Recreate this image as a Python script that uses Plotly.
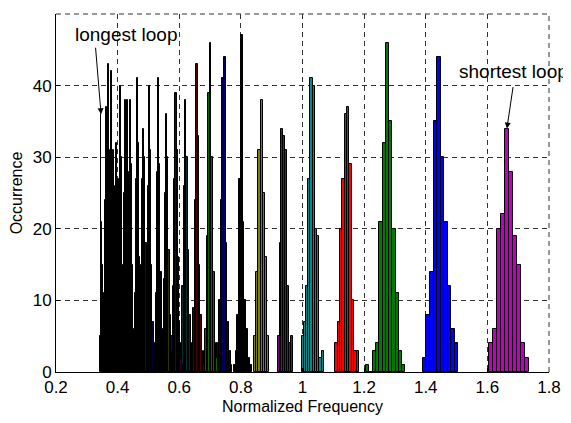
import plotly.graph_objects as go

# ---------------- data (one histogram per loop, shortest loop first) ----------------
# centre of first bin, bin width, and occurrence counts per bin
loop_first_bin = [1.6106, 1.3967, 1.2121, 1.1099, 1.0006, 0.9222, 0.8465,
                  0.7798, 0.7210, 0.6765, 0.6382, 0.6030, 0.5722, 0.5430,
                  0.5178, 0.4896, 0.4710, 0.4518, 0.4292, 0.4206, 0.4136,
                  0.3980, 0.3854, 0.3758, 0.3692, 0.3602, 0.3526, 0.3437]
loop_bin_width = [0.0132, 0.0114, 0.0106, 0.0077, 0.0072, 0.0064, 0.0070,
                  0.0058, 0.0054, 0.0051, 0.0047, 0.0045, 0.0042, 0.0040,
                  0.0038, 0.0036, 0.0035, 0.0033, 0.0032, 0.0031, 0.0031,
                  0.0030, 0.0029, 0.0028, 0.0027, 0.0027, 0.0026, 0.0026]
loop_counts = [
    [4, 6, 20, 22, 34, 28, 19, 15, 4, 2],
    [2, 8, 14, 35, 44, 30, 21, 12, 6, 4],
    [1, 0, 3, 4, 21, 32, 46, 35, 20, 11, 3, 1],
    [4, 7, 20, 27, 36, 37, 29, 10, 3, 3],
    [5, 7, 12, 27, 41, 40, 20, 19, 2, 3],
    [5, 18, 34, 33, 31, 12, 4, 5],
    [5, 14, 31, 38, 25, 16, 5],
    [1, 3, 8, 27, 47, 21, 10, 6, 2, 1],
    [2, 4, 10, 24, 41, 44, 18, 7, 3, 1],
    [1, 3, 6, 19, 39, 46, 30, 14, 4, 2],
    [2, 4, 9, 24, 43, 33, 15, 8, 3, 1],
    [1, 4, 12, 26, 38, 30, 17, 8, 3, 1],
    [2, 5, 12, 27, 39, 31, 16, 7, 2, 1],
    [1, 5, 13, 25, 36, 30, 17, 8, 3, 1],
    [2, 4, 11, 28, 41, 29, 14, 6, 3, 1],
    [1, 5, 12, 26, 40, 31, 15, 7, 2, 1],
    [2, 6, 15, 27, 34, 30, 18, 8, 3, 1],
    [1, 4, 11, 27, 41, 32, 16, 7, 2, 1],
    [2, 6, 14, 26, 38, 29, 15, 6, 3, 1],
    [1, 5, 13, 27, 38, 28, 14, 6, 2, 1],
    [2, 5, 12, 25, 38, 31, 16, 7, 3, 1],
    [1, 4, 11, 27, 40, 30, 15, 7, 2, 1],
    [2, 6, 13, 25, 32, 27, 17, 8, 3, 1],
    [3, 6, 14, 24, 31, 26, 18, 9, 4, 1],
    [2, 5, 12, 28, 42, 29, 14, 6, 2, 1],
    [1, 4, 10, 26, 43, 31, 16, 7, 3, 1],
    [2, 5, 11, 24, 37, 27, 15, 8, 3, 1],
    [5, 36, 21, 15, 10, 6, 4, 2, 1, 1],
]
loop_colors = ['#BF00BF', '#0000FF', '#007A00', '#FF0000', '#008C8C', '#800080',
               '#808000', '#000000', '#000060', '#006A00', '#500000', '#003030',
               '#300030', '#303000', '#000000', '#000030', '#002000', '#300000',
               '#003030', '#300030', '#303000', '#000000', '#000030', '#002000',
               '#300000', '#003030', '#300030', '#000000']

x_ticks = [0.2, 0.4, 0.6, 0.8, 1.0, 1.2, 1.4, 1.6, 1.8]
x_tick_labels = ['0.2', '0.4', '0.6', '0.8', '1', '1.2', '1.4', '1.6', '1.8']
y_ticks = [0, 10, 20, 30, 40, 50]

FONT = 'Liberation Sans, Arial, sans-serif'
GRID = dict(color='#333333', width=1, dash='5px,4px')

fig = go.Figure()
for first, w, cnt, col in zip(loop_first_bin, loop_bin_width, loop_counts, loop_colors):
    fig.add_trace(go.Bar(
        x0=first, dx=w, y=cnt, width=w,
        marker=dict(color=col, line=dict(color='black', width=1)),
        showlegend=False, hoverinfo='skip'))

# arrow tips at the peak bar of the shortest and longest loops
def peak_of(i):
    c = loop_counts[i]
    k = c.index(max(c))
    return loop_first_bin[i] + k * loop_bin_width[i], c[k]

sx, sy = peak_of(0)
lx, ly = peak_of(len(loop_counts) - 1)

anns = [
    dict(x=0.426, y=47.1, text='longest loop', showarrow=False,
         font=dict(family=FONT, size=19, color='black'), xref='x', yref='y'),
    dict(x=lx, y=ly, ax=0.328, ay=45.5, axref='x', ayref='y', text='',
         showarrow=True, arrowhead=2, arrowsize=1.2, arrowwidth=1, arrowcolor='black',
         xref='x', yref='y'),
    dict(x=1.684, y=42.0, text='shortest loop', showarrow=False,
         font=dict(family=FONT, size=19, color='black'), xref='x', yref='y'),
    dict(x=sx, y=sy, ax=1.684, ay=40.0, axref='x', ayref='y', text='',
         showarrow=True, arrowhead=2, arrowsize=1.2, arrowwidth=1, arrowcolor='black',
         xref='x', yref='y'),
]

# dashed box edges at the top (y=50) and right (x=1.8), as the grid in the original
shapes = [
    dict(type='line', xref='paper', yref='paper', x0=0, x1=1, y0=1, y1=1,
         line=GRID, layer='below'),
    dict(type='line', xref='paper', yref='paper', x0=1, x1=1, y0=0, y1=1,
         line=GRID, layer='below'),
]

# the page body keeps its default 8 px margin, so the figure is 8 px smaller
fig.update_layout(
    width=563, height=415,
    margin=dict(l=48, r=22, t=6, b=51),
    paper_bgcolor='white', plot_bgcolor='white',
    barmode='overlay', bargap=0,
    font=dict(family=FONT, size=17, color='black'),
    annotations=anns, shapes=shapes,
    xaxis=dict(range=[0.2, 1.8], tickvals=x_ticks, ticktext=x_tick_labels,
               showgrid=True, gridcolor='#333333', griddash='5px,4px', gridwidth=1,
               showline=True, linecolor='black', linewidth=1,
               ticks='inside', ticklen=4, tickcolor='black', zeroline=False,
               automargin=False,
               title=dict(text='Normalized Frequency', font=dict(size=16), standoff=4),
               tickfont=dict(size=17)),
    yaxis=dict(range=[0, 50], tickvals=y_ticks,
               showgrid=True, gridcolor='#333333', griddash='5px,4px', gridwidth=1,
               showline=True, linecolor='black', linewidth=1,
               ticks='inside', ticklen=4, tickcolor='black', zeroline=False,
               automargin=False,
               title=dict(text='Occurrence', font=dict(size=16), standoff=9),
               tickfont=dict(size=17)),
)

fig.write_html('out.html')
